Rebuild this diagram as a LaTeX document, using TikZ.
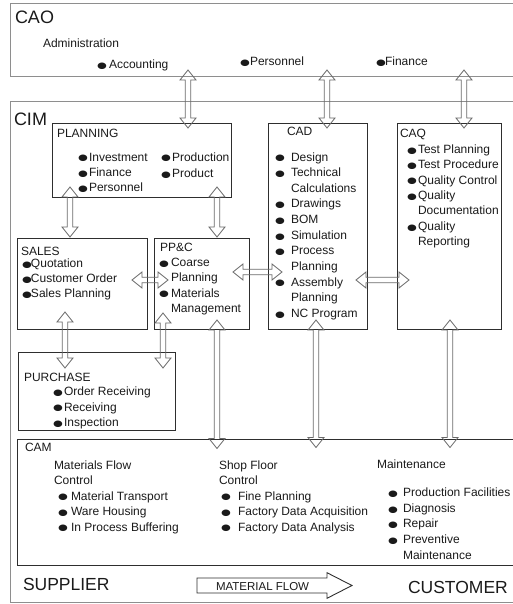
\documentclass[tikz,border=0pt]{standalone}
\usepackage{fontspec}
\setmainfont{Liberation Sans}
\newfontfamily\symf{DejaVu Sans}
\usepackage{graphicx}
\usetikzlibrary{calc}

\definecolor{framegray}{HTML}{8E8E8E}
\definecolor{boxline}{HTML}{2E2E2E}
\definecolor{arrowline}{HTML}{6A6A6A}
\definecolor{ink}{HTML}{1A1A1A}

% filled bullet used in front of list entries
\newcommand\dotmark{\raisebox{0.3pt}{\symf\fontsize{9}{9}\selectfont\scalebox{1.25}[0.95]{●}}}
% list with a bullet column of given width
\newcommand\itemlist[2]{\begin{tabular}[t]{@{}p{#1}@{}l@{}}#2\end{tabular}}
% plain multi-line label, first line on the anchor
\newcommand\lines[1]{\begin{tabular}[t]{@{}l@{}}#1\end{tabular}}

\tikzset{
  frame/.style={rectangle, draw=framegray, line width=1pt, anchor=north west,
    inner sep=0pt, outer sep=0pt},
  unit/.style={rectangle, draw=boxline, line width=0.8pt, anchor=north west,
    inner sep=0pt, outer sep=0pt},
  txt/.style={anchor=base west, inner sep=0pt, outer sep=0pt, text=ink,
    font=\fontsize{12}{15.6}\selectfont},
  bigtxt/.style={txt, font=\fontsize{18}{20}\selectfont},
  hugetxt/.style={txt, font=\fontsize{17.5}{20}\selectfont},
  % hollow double-headed block arrow between two points
  blockarrow/.style={draw=arrowline, line width=0.8pt, line join=miter,
    to path={let \p1=(\tikztostart), \p2=(\tikztotarget),
      \n1={atan2(\y2-\y1,\x2-\x1)}, \n2={veclen(\x2-\x1,\y2-\y1)} in
      {[shift={(\p1)}, rotate=\n1]
        (0pt,0pt) -- (10pt,8pt) -- (10pt,2.8pt) -- (\n2-10pt,2.8pt)
        -- (\n2-10pt,8pt) -- (\n2,0pt) -- (\n2-10pt,-8pt) -- (\n2-10pt,-2.8pt)
        -- (10pt,-2.8pt) -- (10pt,-8pt) -- cycle}}},
  flowarrow/.style={draw=boxline, line width=0.9pt, line join=miter}
}

\begin{document}
\begin{tikzpicture}[x=1pt,y=-1pt]
\useasboundingbox (0,0) rectangle (513,604);

% ---------- outer frames ----------
\node[frame, minimum width=505pt, minimum height=73pt] (cao) at (10,4) {};
\node[frame, minimum width=505pt, minimum height=500.5pt] (cim) at (10,102) {};

% ---------- functional units ----------
\node[unit, minimum width=179pt, minimum height=74pt] (planning) at (52,123) {};
\node[unit, minimum width=99pt, minimum height=206pt] (cad) at (268,123) {};
\node[unit, minimum width=104pt, minimum height=206pt] (caq) at (397,123) {};
\node[unit, minimum width=130pt, minimum height=91pt] (sales) at (17,238) {};
\node[unit, minimum width=95pt, minimum height=91pt] (ppc) at (154,238) {};
\node[unit, minimum width=157pt, minimum height=78pt] (purchase) at (18,352) {};
\node[unit, minimum width=497pt, minimum height=126pt] (cam) at (17,439.5) {};

% ---------- CAO ----------
\node[bigtxt] (caoT) at (15,23.5) {CAO};
\node[txt] (admin) at (43,48) {Administration};
\node[txt] (accounting) at (97,69) {\itemlist{12pt}{\dotmark & Accounting}};
\node[txt] (personnelA) at (240,66) {\itemlist{10pt}{\dotmark & Personnel}};
\node[txt] (financeA) at (376,66) {\itemlist{9pt}{\dotmark & Finance}};

% ---------- CIM ----------
\node[bigtxt] (cimT) at (14,126) {CIM};

\node[txt] (planT) at (57,137.5) {PLANNING};
\node[txt, font=\fontsize{12}{15.4}\selectfont] (planL) at (78,161)
  {\itemlist{11pt}{\dotmark & Investment\\ \dotmark & Finance\\ \dotmark & Personnel}};
\node[txt, font=\fontsize{12}{16.5}\selectfont] (planR) at (161,161)
  {\itemlist{11pt}{\dotmark & Production\\ \dotmark & Product}};

\node[txt] (cadT) at (287,136) {CAD};
\node[txt, font=\fontsize{12}{15.66}\selectfont] (cadL) at (275,161)
  {\itemlist{16pt}{\dotmark & Design\\ \dotmark & Technical\\ & Calculations\\
   \dotmark & Drawings\\ \dotmark & BOM\\ \dotmark & Simulation\\
   \dotmark & Process\\ & Planning\\ \dotmark & Assembly\\ & Planning\\
   \dotmark & NC Program}};

\node[txt] (caqT) at (400,137.5) {CAQ};
\node[txt, font=\fontsize{12}{15.37}\selectfont] (caqL) at (407,153.5)
  {\itemlist{11pt}{\dotmark & Test Planning\\ \dotmark & Test Procedure\\
   \dotmark & Quality Control\\ \dotmark & Quality\\ & Documentation\\
   \dotmark & Quality\\ & Reporting}};

\node[txt] (salesT) at (21,255) {SALES};
\node[txt, font=\fontsize{12}{15}\selectfont] (salesL) at (22,267.7)
  {\itemlist{9pt}{\dotmark & Quotation\\ \dotmark & Customer Order\\ \dotmark & Sales Planning}};

\node[txt] (ppcT) at (160,251.7) {PP\&C};
\node[txt, font=\fontsize{12}{15.2}\selectfont] (ppcL) at (159,266.7)
  {\itemlist{12pt}{\dotmark & Coarse\\ & Planning\\ \dotmark & Materials\\ & Management}};

\node[txt] (purchT) at (24,381.7) {PURCHASE};
\node[txt, font=\fontsize{12}{15.5}\selectfont] (purchL) at (53,395.7)
  {\itemlist{11pt}{\dotmark & Order Receiving\\ \dotmark & Receiving\\ \dotmark & Inspection}};

% ---------- CAM ----------
\node[txt] (camT) at (25,451) {CAM};
\node[txt, font=\fontsize{12}{15}\selectfont] (mfc) at (54,469)
  {\lines{Materials Flow\\Control}};
\node[txt, font=\fontsize{12}{15.5}\selectfont] (mfcL) at (58,500)
  {\itemlist{13pt}{\dotmark & Material Transport\\ \dotmark & Ware Housing\\
   \dotmark & In Process Buffering}};
\node[txt, font=\fontsize{12}{15}\selectfont] (sfc) at (219,469.5)
  {\lines{Shop Floor\\Control}};
\node[txt, font=\fontsize{12}{15.5}\selectfont] (sfcL) at (221,500)
  {\itemlist{17pt}{\dotmark & Fine Planning\\ \dotmark & Factory Data Acquisition\\
   \dotmark & Factory Data Analysis}};
\node[txt] (maint) at (377,468.3) {Maintenance};
\node[txt, font=\fontsize{12}{15.6}\selectfont] (maintL) at (388,496.7)
  {\itemlist{15pt}{\dotmark & Production Facilities\\ \dotmark & Diagnosis\\
   \dotmark & Repair\\ \dotmark & Preventive\\ & Maintenance}};

% ---------- supplier / customer line ----------
\node[hugetxt] (supplier) at (23,590) {SUPPLIER};
\node[hugetxt] (customer) at (408,593) {CUSTOMER};
\draw[flowarrow] (197,578) -- (327,578) -- (327,572.7) -- (352,585.5)
  -- (327,598.3) -- (327,593) -- (197,593) -- cycle;
\node[txt, font=\fontsize{11.5}{13}\selectfont] (flowlabel) at (216,590) {MATERIAL FLOW};

% ---------- arrow end points ----------
\coordinate (a1s) at ($(cao.south west)+(178,-7)$);
\coordinate (a1e) at ($(planning.north west)+(136,5)$);
\coordinate (a2s) at ($(cao.south west)+(317,-7)$);
\coordinate (a2e) at ($(cad.north west)+(59,5)$);
\coordinate (a3s) at ($(cao.south west)+(454,-7)$);
\coordinate (a3e) at ($(caq.north west)+(67,5)$);
\coordinate (a4s) at ($(planning.south west)+(18,-10)$);
\coordinate (a4e) at ($(sales.north west)+(53,-1)$);
\coordinate (a5s) at ($(planning.south west)+(165,-10)$);
\coordinate (a5e) at ($(ppc.north west)+(63,-1)$);
\coordinate (a6s) at ($(sales.north east)+(-15,42)$);
\coordinate (a6e) at ($(ppc.north west)+(14,42)$);
\coordinate (a7s) at ($(ppc.north east)+(-16,34)$);
\coordinate (a7e) at ($(cad.north west)+(14,149)$);
\coordinate (a8s) at ($(cad.north east)+(-11,157)$);
\coordinate (a8e) at ($(caq.north west)+(12,157)$);
\coordinate (a9s) at ($(sales.south west)+(48,-17)$);
\coordinate (a9e) at ($(purchase.north west)+(47,16)$);
\coordinate (a10s) at ($(ppc.south west)+(9,-16)$);
\coordinate (a10e) at ($(purchase.north east)+(-12,16)$);
\coordinate (a11s) at ($(ppc.south west)+(63,-9)$);
\coordinate (a11e) at ($(cam.north west)+(200,9)$);
\coordinate (a12s) at ($(cad.south west)+(48,-9)$);
\coordinate (a12e) at ($(cam.north west)+(299,8)$);
\coordinate (a13s) at ($(caq.south west)+(53,-9)$);
\coordinate (a13e) at ($(cam.north west)+(433,8)$);

% ---------- information flow arrows ----------
\foreach \k in {1,...,13}{
  \draw[blockarrow] (a\k s) to (a\k e);
}
\end{tikzpicture}
\end{document}
